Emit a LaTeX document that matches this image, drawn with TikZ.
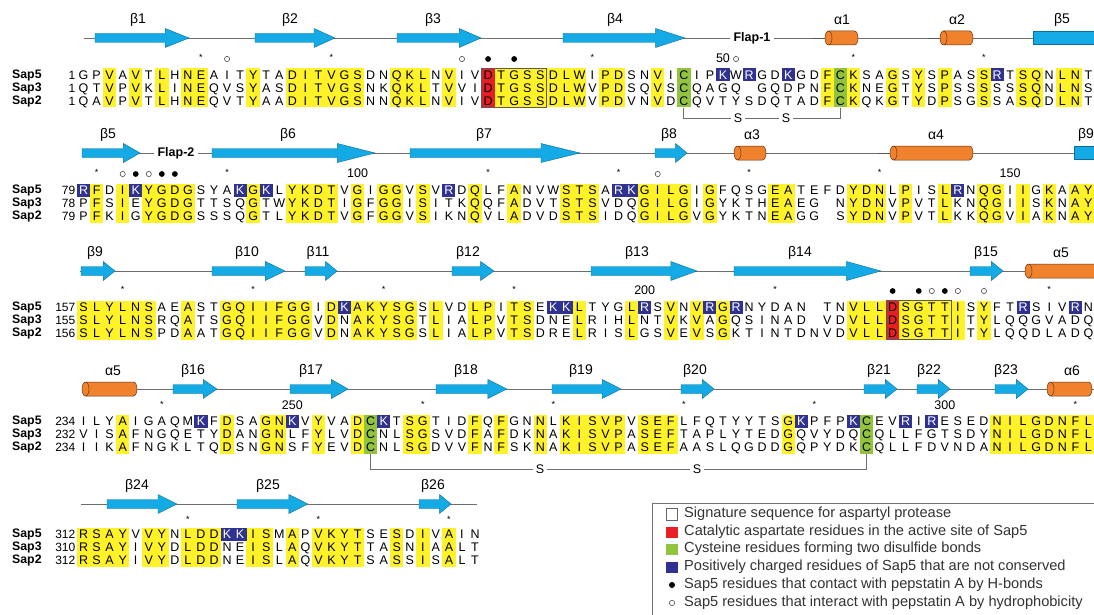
\documentclass[tikz,border=0pt]{standalone}
\usepackage{fontspec}
\setmainfont{Liberation Sans}
\definecolor{hly}{RGB}{255,242,40}
\definecolor{catred}{RGB}{232,30,38}
\definecolor{cysgreen}{RGB}{145,196,60}
\definecolor{posblue}{RGB}{48,50,145}
\definecolor{strandcyan}{RGB}{20,170,230}
\definecolor{helixorange}{RGB}{240,130,45}
\definecolor{trackgray}{RGB}{110,110,110}

\newcommand\pitch{13.05}

% one aligned sequence row: id, x of first column, y, name, first number, residues
% '-' is a gap, a lower-case letter is a non-conserved positive residue (blue box)
\makeatletter
\newcount\rescol
\newcommand\seqrow[6]{%
  \node[seqname, anchor=west] (#1n) at (12,#3) {#4};
  \node[seqnum, anchor=east] (#1i) at ({#2-1.5},#3) {#5};
  \rescol=0
  \def\rowid{#1}\def\rowx{#2}\def\rowy{#3}%
  \seq@loop#6\relax}
\def\seq@loop#1{%
  \ifx#1\relax\else
    \advance\rescol by 1
    \ifx#1-\else
      \ifnum`#1=\lccode`#1
        \fill[posblue] ({\rowx+(\the\rescol-1)*\pitch},{\rowy-6.5}) rectangle ({\rowx+\the\rescol*\pitch},{\rowy+6.5});
        \node[res, text=white] (\rowid c\the\rescol) at ({\rowx+(\the\rescol-0.5)*\pitch},\rowy) {\uppercase{#1}};
      \else
        \node[res] (\rowid c\the\rescol) at ({\rowx+(\the\rescol-0.5)*\pitch},\rowy) {#1};
      \fi
    \fi
    \expandafter\seq@loop
  \fi}
\makeatother

% shaded columns across the three rows: colour, x0, top, bottom, columns
\newcommand\colfill[5]{\foreach \c in {#5}
  \fill[#1] ({#2+(\c-1)*\pitch-0.2},#3) rectangle ({#2+\c*\pitch+0.2},#4);}
% marks above the alignment
\newcommand\astat[4]{\foreach \c in {#4}
  \node[ast] (#1a\c) at ({#2+(\c-0.5)*\pitch},#3) {*};}
\newcommand\hbat[3]{\foreach \c in {#3}
  \fill ({#1+(\c-0.5)*\pitch},#2) circle (2.9);}
\newcommand\hyat[3]{\foreach \c in {#3}
  \draw[black!70, line width=0.6pt] ({#1+(\c-0.5)*\pitch},#2) circle (2.6);}
% secondary structure: name, x start, x end, y, label, label x
\newcommand\strand[6]{%
  \pgfmathsetmacro\hl{0.2*(#3-#2)+5}%
  \filldraw[strandst] (#2,{#4-4.5}) -- ({#3-\hl},{#4-4.5}) -- ({#3-\hl},{#4-9.5})
    -- (#3,#4) -- ({#3-\hl},{#4+9.5}) -- ({#3-\hl},{#4+4.5}) -- (#2,{#4+4.5}) -- cycle;
  \node[sslabel] (#1) at (#6,{#4-18}) {#5};}
\newcommand\sbody[6]{%
  \filldraw[strandst] (#2,{#4-6.5}) rectangle (#3,{#4+6.5});
  \node[sslabel] (#1) at (#6,{#4-18}) {#5};}
\newcommand\helix[6]{%
  \filldraw[helixst] ({#2+3.5},{#4-7}) -- ({#3-3.5},{#4-7})
    arc[start angle=-90, end angle=90, x radius=3.5, y radius=7]
    -- ({#2+3.5},{#4+7})
    arc[start angle=90, end angle=270, x radius=3.5, y radius=7] -- cycle;
  \draw[helixst, fill=none] ({#2+3.5},{#4-7}) arc[start angle=-90, end angle=90, x radius=3.5, y radius=7];
  \node[sslabel] (#1) at (#6,{#4-18}) {#5};}

\begin{document}
\begin{tikzpicture}[x=1pt, y=-1pt,
  res/.style={inner sep=0pt, text height=9pt, text depth=0pt, font=\fontsize{12.5}{14}\selectfont},
  seqname/.style={inner sep=0pt, font=\bfseries\fontsize{12.3}{14}\selectfont},
  seqnum/.style={inner sep=0pt, font=\fontsize{12}{14}\selectfont},
  sslabel/.style={inner sep=0pt, font=\fontsize{14}{16}\selectfont},
  flap/.style={inner sep=4pt, fill=white, font=\bfseries\fontsize{12.5}{14}\selectfont},
  ast/.style={inner sep=0pt, font=\fontsize{9}{10}\selectfont},
  posnum/.style={inner sep=0pt, font=\fontsize{12.5}{14}\selectfont},
  strandst/.style={fill=strandcyan, draw=strandcyan!65!black, line width=0.4pt},
  helixst/.style={fill=helixorange, draw=helixorange!40!black, line width=0.5pt},
  track/.style={draw=trackgray, line width=0.8pt},
  trackdark/.style={draw=black!65, line width=0.9pt},
  ssbond/.style={draw=trackgray, line width=0.8pt},
  sigbox/.style={draw=black!65, line width=1.1pt},
  legtext/.style={inner sep=0pt, anchor=west, text=black!80, font=\fontsize{14.6}{16}\selectfont}]

\useasboundingbox (0,0) rectangle (1094,615);
\fill[white] (0,0) rectangle (1094,615);

% ---------------- block 1: residues 1-78 ----------------
\colfill{hly}{77}{68.5}{107.5}{3,5,7,9,10,14,17,18,19,20,21,22,25,26,27,29,33,34,35,36,37,38,39,41,42,45,58,60,63,65,67,70,73,74,76,77}
\colfill{catred}{77}{68.5}{107.5}{32}
\colfill{cysgreen}{77}{68.5}{107.5}{47,59}
\seqrow{b1s5}{77}{75}{Sap5}{1}{GPVAVTLHNEAITYTADITVGSDNQKLNVIVDTGSSDLWIPDSNVICIPkWrGDkGDFCKSAGSYSPASSrTSQNLNT}
\seqrow{b1s3}{77}{88}{Sap3}{1}{QTVPVKLINEQVSYASDITVGSNKQKLTVVIDTGSSDLWVPDSQVSCQAGQ-GQDPNFCKNEGTYSPSSSSSSQNLNS}
\seqrow{b1s2}{77}{101}{Sap2}{1}{QAVPVTLHNEQVTYAADITVGSNNQKLNVIVDTGSSDLWVPDVNVDCQVTYSDQTADFCKQKGTYDPSGSSASQDLNT}
\draw[sigbox] ({77+31*\pitch},68.5) rectangle ({77+36*\pitch},107.5);
\astat{b1}{77}{57}{10,20,40,60,70}
\hyat{77}{59}{12,30,51}
\hbat{77}{59}{32,34}
\node[posnum] (b1n50) at ({77+49.5*\pitch},58) {50};
% secondary structure
\draw[track] (84,38) -- (1100,38);
\draw[trackdark] (812,38) -- (826,38);
\draw[trackdark] (928,38) -- (941,38);
\node[flap] (flap1) at (752,38) {Flap-1};
\strand{sb1}{95}{189}{38}{β1}{138}
\strand{sb2}{255}{335}{38}{β2}{290}
\strand{sb3}{397}{481}{38}{β3}{433}
\strand{sb4}{563}{685}{38}{β4}{615}
\helix{ha1}{825}{858}{38}{α1}{842}
\helix{ha2}{940}{973}{38}{α2}{957}
\sbody{sb5a}{1033}{1100}{38}{β5}{1062}
% disulfide bond C47-C59
\node[res] (b1ssa) at (738,118) {S};
\node[res] (b1ssb) at (786,118) {S};
\draw[ssbond] ([yshift=-2pt]b1s2c47.south) |- ([xshift=-3pt]b1ssa.west);
\draw[ssbond] ([xshift=3pt]b1ssa.east) -- ([xshift=-3pt]b1ssb.west);
\draw[ssbond] ([xshift=3pt]b1ssb.east) -| ([yshift=-2pt]b1s2c59.south);

% ---------------- block 2: residues 79-156 ----------------
\colfill{hly}{77}{183.5}{222.5}{2,4,6,7,8,9,14,17,18,19,20,22,24,25,27,31,34,38,39,40,44,45,46,47,49,54,55,60,61,62,64,67,70,71,73,75,77,78}
\seqrow{b2s5}{77}{190}{Sap5}{79}{rFDIkYGDGSYAkGkLYKDTVGIGGVSVrDQLFANVWSTSArkGILGIGFQSGEATEFDYDNLPISLrNQGIIGKAAY}
\seqrow{b2s3}{77}{203}{Sap3}{78}{PFSIEYGDGTTSQGTWYKDTIGFGGISITKQQFADVTSTSVDQGILGIGYKTHEAEG-NYDNVPVTLKNQGIISKNAY}
\seqrow{b2s2}{77}{216}{Sap2}{79}{PFKIGYGDGSSSQGTLYKDTVGFGGVSIKNQVLADVDSTSIDQGILGVGYKTNEAGG-SYDNVPVTLKKQGVIAKNAY}
\astat{b2}{77}{172}{2,12,32,42,52,62}
\hyat{77}{174}{4,6,45}
\hbat{77}{174}{5,7,8}
\node[posnum] (b2n100) at ({77+21.5*\pitch},173) {100};
\node[posnum] (b2n150) at ({77+71.5*\pitch},173) {150};
\draw[track] (82,153) -- (1100,153);
\draw[trackdark] (877,153) -- (891,153);
\node[flap] (flap2) at (176,153) {Flap-2};
\strand{sb5b}{82}{140}{153}{β5}{108}
\strand{sb6}{212}{375}{153}{β6}{288}
\strand{sb7}{410}{580}{153}{β7}{484}
\strand{sb8}{655}{687}{153}{β8}{669}
\helix{ha3}{734}{766}{153}{α3}{752}
\helix{ha4}{890}{973}{153}{α4}{936}
\sbody{sb9a}{1074}{1100}{153}{β9}{1086}

% ---------------- block 3: residues 157-233 ----------------
\colfill{hly}{77}{300.5}{339.5}{1,2,3,4,5,6,9,12,13,14,15,16,17,18,20,22,23,24,25,26,28,31,32,34,35,39,43,46,48,50,60,61,62,64,65,66,67,68,70}
\colfill{catred}{77}{300.5}{339.5}{63}
\seqrow{b3s5}{77}{307}{Sap5}{157}{SLYLNSAEASTGQIIFGGIDkAKYSGSLVDLPITSEkkLTYGLrSVNVrGrNYDAN-TNVLLDSGTTISYFTrSIVrN}
\seqrow{b3s3}{77}{320}{Sap3}{155}{SLYLNSRQATSGQIIFGGVDNAKYSGTLIALPVTSDNELRIHLNTVKVAGQSINAD-VDVLLDSGTTITYLQQGVADQ}
\seqrow{b3s2}{77}{333}{Sap2}{156}{SLYLNSPDAATGQIIFGGVDNAKYSGSLIALPVTSDRELRISLGSVEVSGKTINTDNVDVLLDSGTTITYLQQDLADQ}
\draw[sigbox] ({77+62*\pitch},300.5) rectangle ({77+67*\pitch},339.5);
\astat{b3}{77}{289}{4,14,24,34,54,75}
\hbat{77}{291}{63,65,67}
\hyat{77}{291}{66,68,70}
\node[posnum] (b3n200) at ({77+43.5*\pitch},290) {200};
\draw[track] (80,271) -- (1100,271);
\strand{sb9b}{81}{115}{271}{β9}{95}
\strand{sb10}{212}{285}{271}{β10}{247}
\strand{sb11}{305}{337}{271}{β11}{318}
\strand{sb12}{452}{494}{271}{β12}{468}
\strand{sb13}{591}{697}{271}{β13}{637}
\strand{sb14}{734}{881}{271}{β14}{800}
\strand{sb15}{970}{1003}{271}{β15}{986}
\helix{ha5a}{1025}{1110}{271}{α5}{1061}

% ---------------- block 4: residues 234-311 ----------------
\colfill{hly}{77}{414.5}{453.5}{4,12,15,16,19,22,26,27,31,33,36,38,39,40,41,42,44,45,46,55,71,72,73,74,75,76,77,78}
\colfill{cysgreen}{77}{414.5}{453.5}{23,61}
\seqrow{b4s5}{77}{421}{Sap5}{234}{ILYAIGAQMkFDSAGNkVYVADCkTSGTIDFQFGNNLKISVPVSEFLFQTYYTSGkPFPkCEVrIrESEDNILGDNFL}
\seqrow{b4s3}{77}{434}{Sap3}{232}{VISAFNGQETYDANGNLFYLVDCNLSGSVDFAFDKNAKISVPASEFTAPLYTEDGQVYDQCQLLFGTSDYNILGDNFL}
\seqrow{b4s2}{77}{447}{Sap2}{234}{IIKAFNGKLTQDSNGNSFYEVDCNLSGDVVFNFSKNAKISVPASEFAASLQGDDGQPYDKCQLLFDVNDANILGDNFL}
\astat{b4}{77}{404}{7,27,37,47,57,77}
\node[posnum] (b4n250) at ({77+16.5*\pitch},405) {250};
\node[posnum] (b4n300) at ({77+66.5*\pitch},405) {300};
\draw[track] (137,389) -- (1100,389);
\helix{ha5b}{82}{137}{389}{α5}{113}
\strand{sb16}{173}{217}{389}{β16}{193}
\strand{sb17}{290}{348}{389}{β17}{311}
\strand{sb18}{436}{507}{389}{β18}{466}
\strand{sb19}{552}{621}{389}{β19}{581}
\strand{sb20}{681}{714}{389}{β20}{695}
\strand{sb21}{864}{897}{389}{β21}{879}
\strand{sb22}{917}{950}{389}{β22}{929}
\strand{sb23}{995}{1028}{389}{β23}{1006}
\helix{ha6}{1047}{1092}{389}{α6}{1072}
% disulfide bond between the two cysteine columns
\node[res] (b4ssa) at (540,469) {S};
\node[res] (b4ssb) at (697,469) {S};
\draw[ssbond] ([yshift=-2pt]b4s2c23.south) |- ([xshift=-3pt]b4ssa.west);
\draw[ssbond] ([xshift=3pt]b4ssa.east) -- ([xshift=-3pt]b4ssb.west);
\draw[ssbond] ([xshift=3pt]b4ssb.east) -| ([yshift=-2pt]b4s2c61.south);

% ---------------- block 5: residues 312-342 ----------------
\colfill{hly}{77}{527.5}{566.5}{1,2,3,4,6,7,9,10,11,14,15,17,19,20,21,22,25,27,29}
\seqrow{b5s5}{77}{534}{Sap5}{312}{RSAYVVYNLDDkkISMAPVKYTSESDIVAIN}
\seqrow{b5s3}{77}{547}{Sap3}{310}{RSAYIVYDLDDNEISLAQVKYTTASNIAALT}
\seqrow{b5s2}{77}{560}{Sap2}{312}{RSAYIVYDLDDNEISLAQVKYTSASSISALT}
\astat{b5}{77}{519}{9,19,29}
\draw[track] (81,504) -- (477,504);
\strand{sb24}{107}{177}{504}{β24}{137}
\strand{sb25}{237}{308}{504}{β25}{268}
\strand{sb26}{419}{451}{504}{β26}{433}

% ---------------- legend ----------------
\draw[black!55, line width=0.8pt] (652,503) rectangle (1120,640);
\draw[black!60, line width=0.6pt] (666,508.5) rectangle (677.5,520);
\fill[catred] (666,526.5) rectangle (677.5,538);
\fill[cysgreen] (666,543.5) rectangle (677.5,555);
\fill[posblue] (666,561.5) rectangle (677.5,573);
\fill (672,585) circle (3);
\draw[black!70, line width=0.6pt] (672,603) circle (2.7);
\node[legtext] (lg1) at (684,514) {Signature sequence for aspartyl protease};
\node[legtext] (lg2) at (684,532) {Catalytic aspartate residues in the active site of Sap5};
\node[legtext] (lg3) at (684,549) {Cysteine residues forming two disulfide bonds};
\node[legtext] (lg4) at (684,567) {Positively charged residues of Sap5 that are not conserved};
\node[legtext] (lg5) at (684,585) {Sap5 residues that contact with pepstatin A by H-bonds};
\node[legtext] (lg6) at (684,603) {Sap5 residues that interact with pepstatin A by hydrophobicity};
\end{tikzpicture}
\end{document}
